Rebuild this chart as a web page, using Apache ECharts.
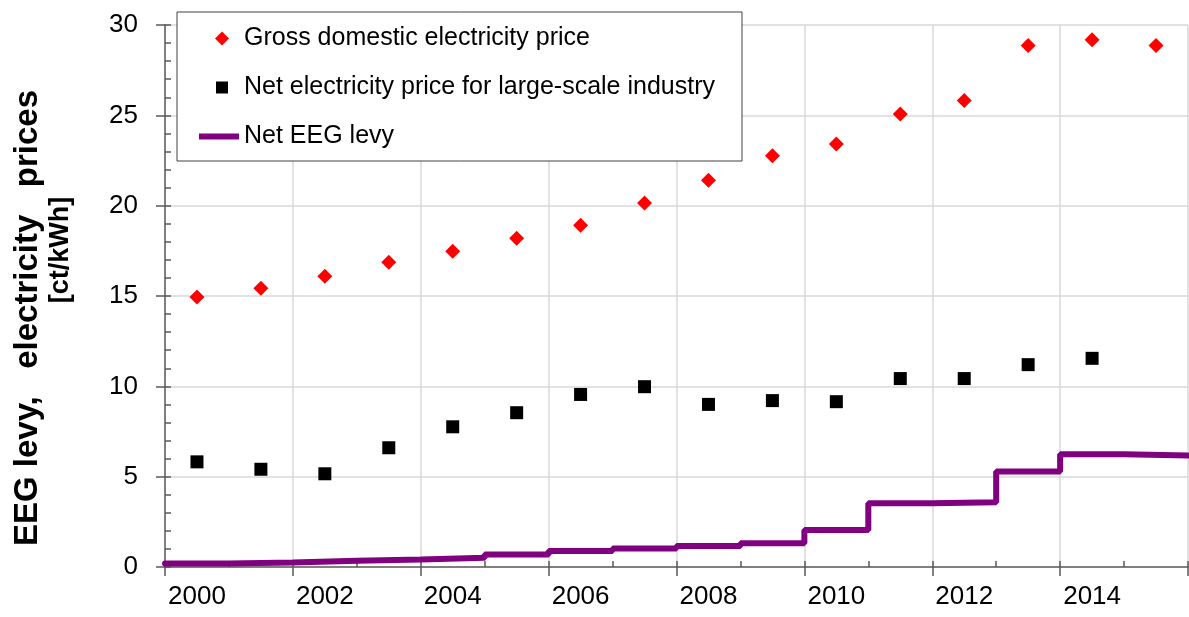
<!DOCTYPE html>
<html>
<head>
<meta charset="utf-8">
<script src="https://cdn.jsdelivr.net/npm/echarts@6/dist/echarts.min.js"></script>
<style>
  html, body { margin: 0; padding: 0; background: #ffffff; }
  #chart { width: 1189px; height: 617px; }
</style>
</head>
<body>
<div id="chart"></div>
<script>
// ---- Data ----
const years = ['2000','2001','2002','2003','2004','2005','2006','2007','2008','2009','2010','2011','2012','2013','2014','2015'];
const grossDomesticPrice = [14.95, 15.43, 16.09, 16.87, 17.48, 18.2, 18.92, 20.15, 21.41, 22.76, 23.42, 25.08, 25.82, 28.86, 29.19, 28.86];
const industryNetPrice = [5.82, 5.41, 5.16, 6.6, 7.76, 8.54, 9.55, 9.98, 9.0, 9.21, 9.15, 10.43, 10.43, 11.2, 11.55, null];
const netEEGLevy = [0.2, 0.25, 0.35, 0.41, 0.51, 0.69, 0.88, 1.02, 1.16, 1.31, 2.05, 3.53, 3.59, 5.28, 6.24, 6.17];
const yTicks = [0, 5, 10, 15, 20, 25, 30];
const seriesNames = ['Gross domestic electricity price', 'Net electricity price for large-scale industry', 'Net EEG levy'];
const yTitleLine1 = 'EEG levy,   electricity   prices';
const yTitleLine2 = '[ct/kWh]';

// Step line: each year's level spans its whole category slot [i, i+1]
const levySteps = netEEGLevy.map((v, i) => [i, v]);
levySteps.push([netEEGLevy.length, netEEGLevy[netEEGLevy.length - 1]]);

// Legend icons (drawn inside a 40x14 icon box; the leading moves fix the box size)
const ICON_DIAMOND = 'path://M0 0 M40 14 M23 0 L30 7 L23 14 L16 7 Z';
const ICON_SQUARE = 'path://M0 0 M40 14 M17 1 L29 1 L29 13 L17 13 Z';
const ICON_LINE = 'path://M0 0 M40 14 M0 4 L40 4 L40 10 L0 10 Z';

const FONT = '"Liberation Sans", Arial, Helvetica, sans-serif';
const chart = echarts.init(document.getElementById('chart'), null, { renderer: 'canvas' });

chart.setOption({
  animation: false,
  backgroundColor: '#ffffff',
  textStyle: { fontFamily: FONT },
  grid: { left: 165, right: 1, top: 25, bottom: 50, containLabel: false },
  legend: {
    orient: 'vertical',
    left: 177,
    top: 12,
    padding: [14, 27, 12, 22],
    itemGap: 24,
    itemWidth: 40,
    itemHeight: 14,
    backgroundColor: '#ffffff',
    borderColor: '#404040',
    borderWidth: 1,
    borderRadius: 0,
    textStyle: { fontSize: 25, color: '#000000', fontFamily: FONT },
    data: [
      { name: seriesNames[0], icon: ICON_DIAMOND },
      { name: seriesNames[1], icon: ICON_SQUARE },
      { name: seriesNames[2], icon: ICON_LINE }
    ]
  },
  xAxis: [
    {
      type: 'category',
      data: years,
      boundaryGap: true,
      position: 'bottom',
      axisLine: { show: false },
      axisTick: { show: false },
      splitLine: { show: false },
      axisLabel: { interval: 1, fontSize: 26, color: '#000000', margin: 17, fontFamily: FONT }
    },
    {
      type: 'value',
      min: 0, max: years.length, interval: 2,
      position: 'bottom',
      axisLine: { show: true, onZero: false, lineStyle: { color: '#7f7f7f', width: 2 } },
      axisTick: { show: true, inside: false, length: 9, lineStyle: { color: '#595959', width: 1.5 } },
      axisLabel: { show: false },
      splitLine: { show: true, lineStyle: { color: '#d9d9d9', width: 1.5 } }
    },
    {
      type: 'value',
      min: 0, max: years.length, interval: 1,
      position: 'bottom',
      axisLine: { show: false, onZero: false },
      axisTick: { show: true, inside: true, length: 6, lineStyle: { color: '#595959', width: 1.5 } },
      axisLabel: { show: false },
      splitLine: { show: false }
    }
  ],
  yAxis: [
    {
      type: 'value',
      min: 0, max: 30, interval: 5,
      position: 'left',
      axisLine: { show: true, lineStyle: { color: '#7f7f7f', width: 2 } },
      axisTick: { show: true, inside: false, length: 9, lineStyle: { color: '#595959', width: 1.5 } },
      axisLabel: {
        fontSize: 26, color: '#000000', margin: 27, fontFamily: FONT,
        formatter: v => (yTicks.indexOf(v) >= 0 ? String(v) : '')
      },
      splitLine: { show: true, lineStyle: { color: '#d9d9d9', width: 1.5 } },
      name: yTitleLine1,
      nameLocation: 'middle',
      nameRotate: 90,
      nameGap: 121,
      nameTextStyle: { fontSize: 33, fontWeight: 'bold', color: '#000000', fontFamily: FONT, padding: [0, 44, 0, 0] }
    },
    {
      type: 'value',
      min: 0, max: 30, interval: 1,
      position: 'left',
      axisLine: { show: false },
      axisTick: { show: true, inside: true, length: 6, lineStyle: { color: '#595959', width: 1.5 } },
      axisLabel: { show: false },
      splitLine: { show: false },
      name: yTitleLine2,
      nameLocation: 'middle',
      nameRotate: 90,
      nameGap: 91,
      nameTextStyle: { fontSize: 27, fontWeight: 'bold', color: '#000000', fontFamily: FONT, padding: [0, 0, 0, 92] }
    }
  ],
  series: [
    {
      name: seriesNames[2],
      type: 'line',
      xAxisIndex: 1,
      yAxisIndex: 0,
      data: levySteps,
      step: 'end',
      symbol: 'none',
      showSymbol: false,
      lineStyle: { color: '#800080', width: 6, cap: 'round' },
      itemStyle: { color: '#800080' },
      z: 3
    },
    {
      name: seriesNames[0],
      type: 'scatter',
      xAxisIndex: 0,
      yAxisIndex: 0,
      data: grossDomesticPrice,
      symbol: 'diamond',
      symbolSize: [15, 15],
      itemStyle: { color: '#ff0000', opacity: 1 },
      z: 4
    },
    {
      name: seriesNames[1],
      type: 'scatter',
      xAxisIndex: 0,
      yAxisIndex: 0,
      data: industryNetPrice,
      symbol: 'rect',
      symbolSize: 13,
      itemStyle: { color: '#000000', opacity: 1 },
      z: 4
    }
  ]
});
</script>
</body>
</html>
